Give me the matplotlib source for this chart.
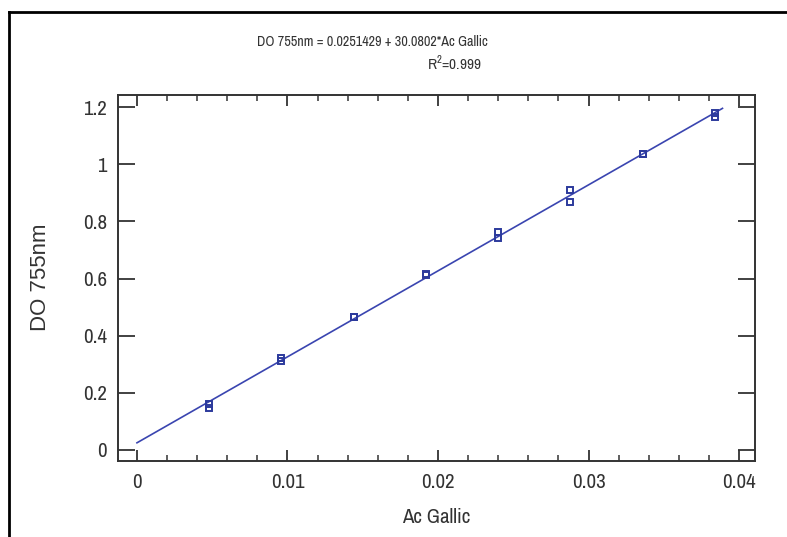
import numpy as np
import matplotlib
matplotlib.use("Agg")
import matplotlib.pyplot as plt
from matplotlib.lines import Line2D
from matplotlib.ticker import MultipleLocator

# calibration data
ac_gallic = [0.0048, 0.0048, 0.0096, 0.0096, 0.0144, 0.0144, 0.0192, 0.0192,
             0.0240, 0.0240, 0.0288, 0.0288, 0.0336, 0.0336, 0.0384, 0.0384]
do_755 = [0.160, 0.148, 0.322, 0.310, 0.467, 0.464, 0.612, 0.617,
          0.764, 0.742, 0.910, 0.866, 1.036, 1.034, 1.178, 1.166]
intercept = 0.0251429
slope = 30.0802
x_fit_end = 0.0389

x_ticks = [0, 0.01, 0.02, 0.03, 0.04]
x_ticklabels = ['0', '0.01', '0.02', '0.03', '0.04']
y_ticks = [0, 0.2, 0.4, 0.6, 0.8, 1.0, 1.2]
y_ticklabels = ['0', '0.2', '0.4', '0.6', '0.8', '1', '1.2']

title_txt = "DO 755nm = 0.0251429 + 30.0802*Ac Gallic"
r2_txt = "R$^2$=0.999"

plt.rcParams['font.family'] = ['Archivo Narrow', 'Liberation Sans', 'DejaVu Sans']
plt.rcParams['mathtext.fontset'] = 'custom'
plt.rcParams['mathtext.rm'] = 'Archivo Narrow'

ink = '#333333'
blue = '#3a45b0'

fig = plt.figure(figsize=(7.87, 5.37), dpi=100)
fig.patch.set_facecolor('white')
ax = fig.add_axes([118/787, 1-461/537, (755-118)/787, (461-95)/537])

xf = np.array([0, x_fit_end])
ax.plot(xf, intercept + slope*xf, color=blue, lw=1.2)
ax.plot(ac_gallic, do_755, ls='none', marker='s', ms=4.2, mfc='none',
        mec='#2c3a9c', mew=1.4)

ax.set_xlim(-0.00126, 0.04106)
ax.set_ylim(-0.0385, 1.242)
ax.xaxis.set_minor_locator(MultipleLocator(0.002))
ax.set_xticks(x_ticks)
ax.set_xticklabels(x_ticklabels)
ax.set_yticks(y_ticks)
ax.set_yticklabels(y_ticklabels)

ax.tick_params(axis='x', which='major', direction='in', length=8, width=1.3,
               top=True, bottom=True, pad=9, labelsize=15, colors=ink)
ax.tick_params(axis='x', which='minor', direction='in', length=4, width=1.1,
               top=True, bottom=True, colors=ink)
ax.tick_params(axis='y', which='major', direction='in', length=12, width=1.3,
               left=True, right=True, pad=8, labelsize=15, colors=ink)
for s in ax.spines.values():
    s.set_color(ink)
    s.set_linewidth(1.4)

ax.set_xlabel('Ac Gallic', fontsize=15, color=ink)
ax.xaxis.set_label_coords(0.5, (461-508)/366, transform=ax.transAxes)
ax.set_ylabel('DO 755nm', fontsize=16, color=ink,
              family=['Liberation Sans', 'DejaVu Sans'])
ax.yaxis.set_label_coords((51-118)/637, (461-277)/366, transform=ax.transAxes)

fig.text(372/787, 1-46/537, title_txt, ha='center', va='baseline', fontsize=10.2, color=ink)
fig.text(454/787, 1-70/537, r2_txt, ha='center', va='baseline', fontsize=11, color=ink)

# frame lines around the figure (top and left only are visible)
fig.add_artist(Line2D([9/787, 1], [1-12/537, 1-12/537], transform=fig.transFigure, color='black', lw=2))
fig.add_artist(Line2D([9/787, 9/787], [0, 1-12/537], transform=fig.transFigure, color='black', lw=2))

fig.savefig('out.png', dpi=100)
